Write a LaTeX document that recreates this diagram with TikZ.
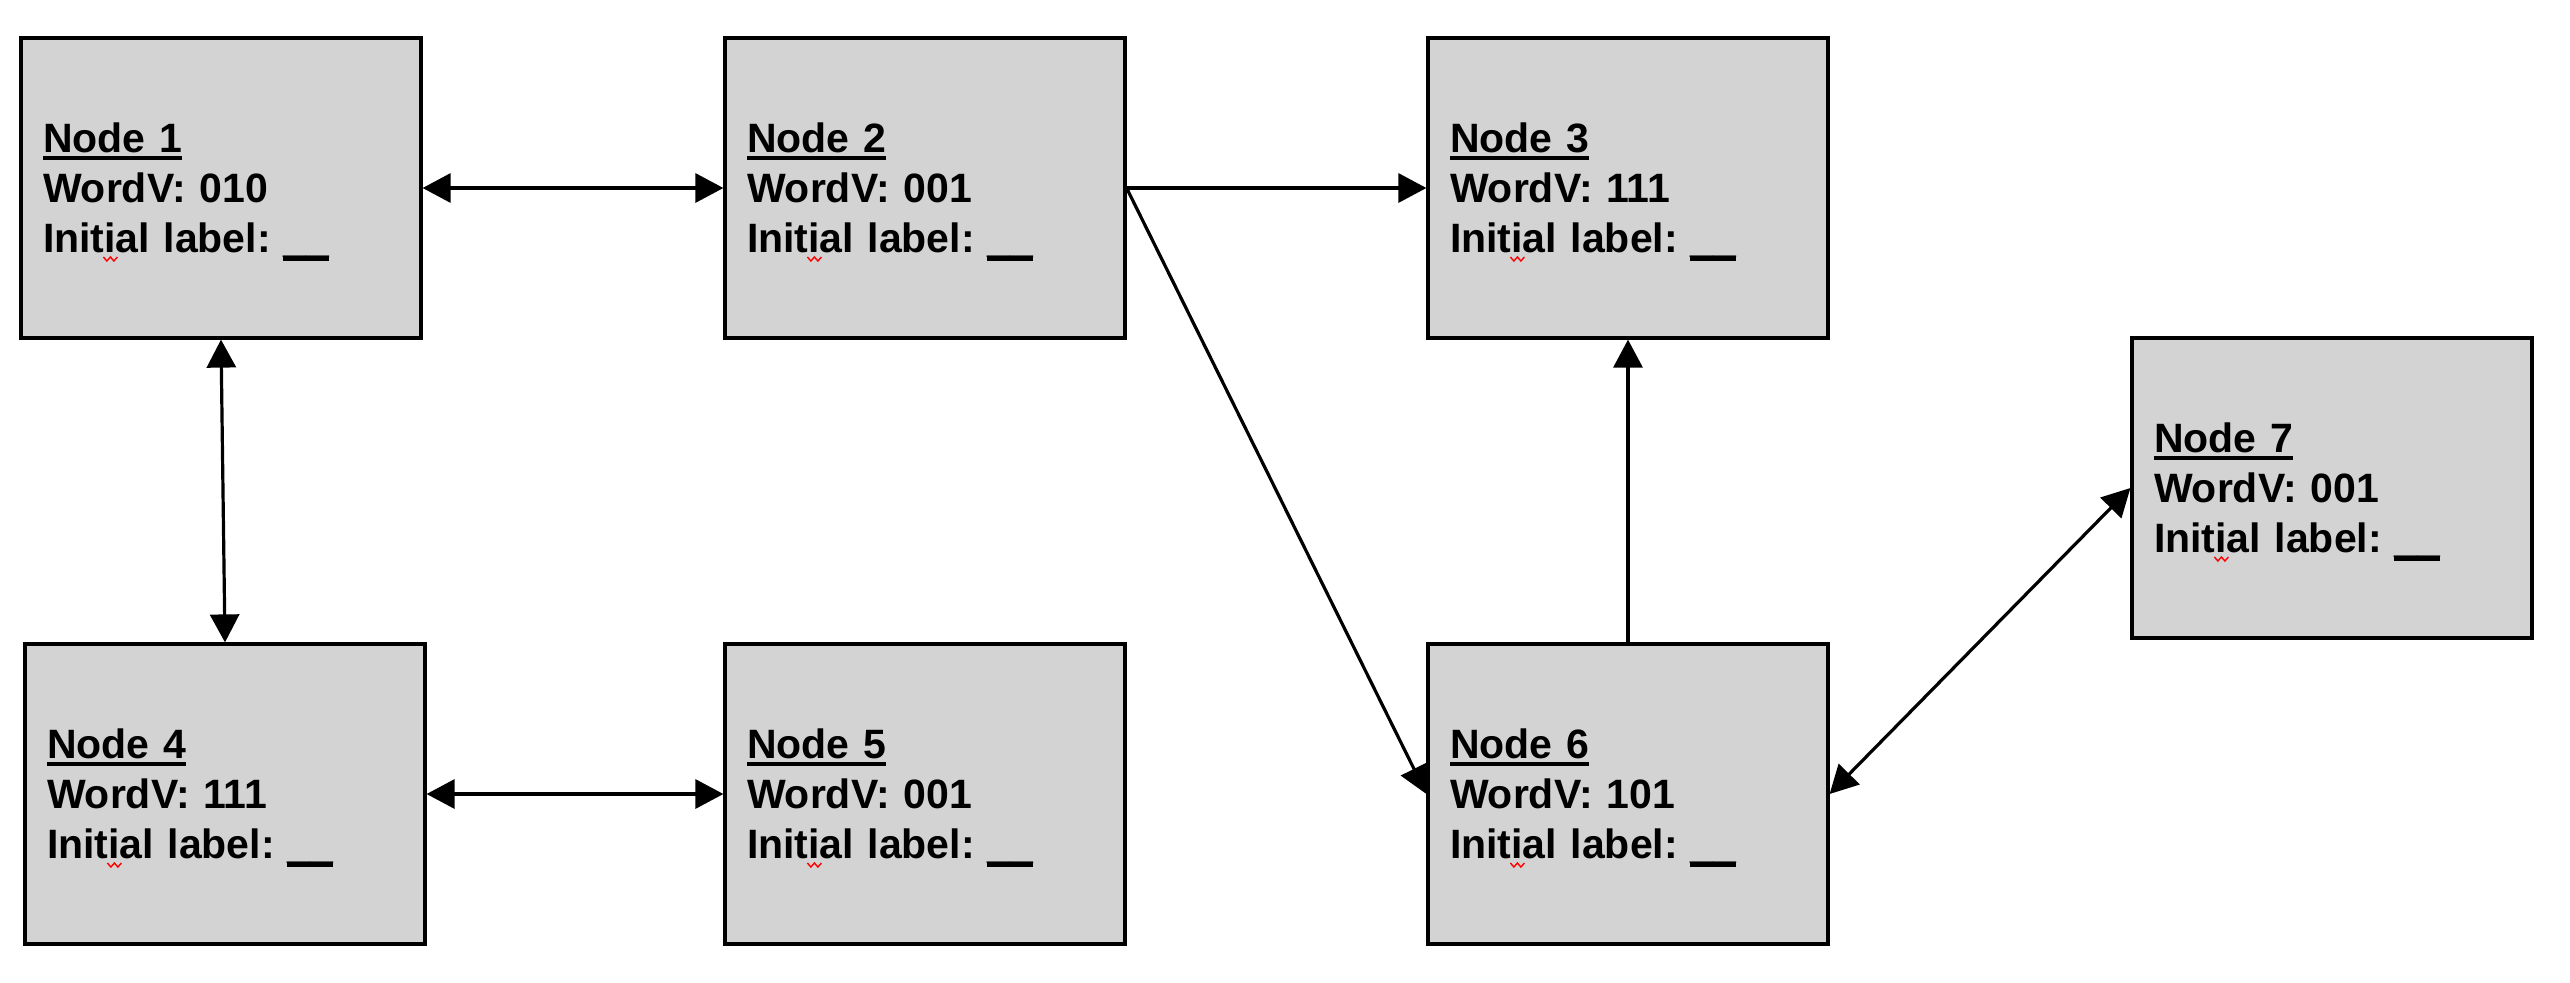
\documentclass[tikz,border=0pt]{standalone}
\usepackage{fontspec}
\setmainfont{Liberation Sans}
\usetikzlibrary{arrows.meta}
\definecolor{boxgray}{RGB}{211,211,211}
\newcommand\nodeul[1]{\setbox0\hbox{#1}\rule{0pt}{18.5pt}\rlap{\rule[-4pt]{\wd0}{2pt}}\box0}
\newcommand\blankline{\kern-4pt\rlap{\rule[-4.5pt]{23pt}{2.4pt}}\_\_}
\begin{document}
\begin{tikzpicture}[x=0.5pt,y=-0.5pt,
  box/.style={draw=black, line width=1.6pt, fill=boxgray, minimum width=200pt, minimum height=150pt,
    inner xsep=11pt, inner ysep=0pt, text width=178pt, align=left,
    font=\fontsize{20.5}{25}\selectfont\bfseries},
  tip/.tip={Triangle[length=14pt,width=14.5pt]},
  link/.style={line width=1.6pt, -tip},
  blink/.style={line width=1.6pt, tip-tip},
  squig/.style={draw=red, line width=0.7pt}]
\useasboundingbox (0,0) rectangle (2570,982);
\node[box] (n1) at (221,188) {\nodeul{Node 1}\\WordV: 010\\Initial label: \blankline};
\node[box] (n2) at (925,188) {\nodeul{Node 2}\\WordV: 001\\Initial label: \blankline};
\node[box] (n3) at (1628,188) {\nodeul{Node 3}\\WordV: 111\\Initial label: \blankline};
\node[box] (n7) at (2332,488) {\nodeul{Node 7}\\WordV: 001\\Initial label: \blankline};
\node[box] (n4) at (225,794) {\nodeul{Node 4}\\WordV: 111\\Initial label: \blankline};
\node[box] (n5) at (925,794) {\nodeul{Node 5}\\WordV: 001\\Initial label: \blankline};
\node[box] (n6) at (1628,794) {\nodeul{Node 6}\\WordV: 101\\Initial label: \blankline};
\foreach \n in {n1,n2,n3,n4,n5,n6,n7}
  \draw[squig, shift={(\n.west)}] (84,69) -- (87.5,73) -- (91,69) -- (94.5,73) -- (98,69);
\draw[blink] (n1.east) -- (n2.west);
\draw[link] (n2.east) -- (n3.west);
\draw[link] (n2.east) -- (n6.west);
\draw[link] (n6.north) -- (n3.south);
\draw[blink] (n6.east) -- (n7.west);
\draw[blink] (n1.south) -- (n4.north);
\draw[blink] (n4.east) -- (n5.west);
\end{tikzpicture}
\end{document}
